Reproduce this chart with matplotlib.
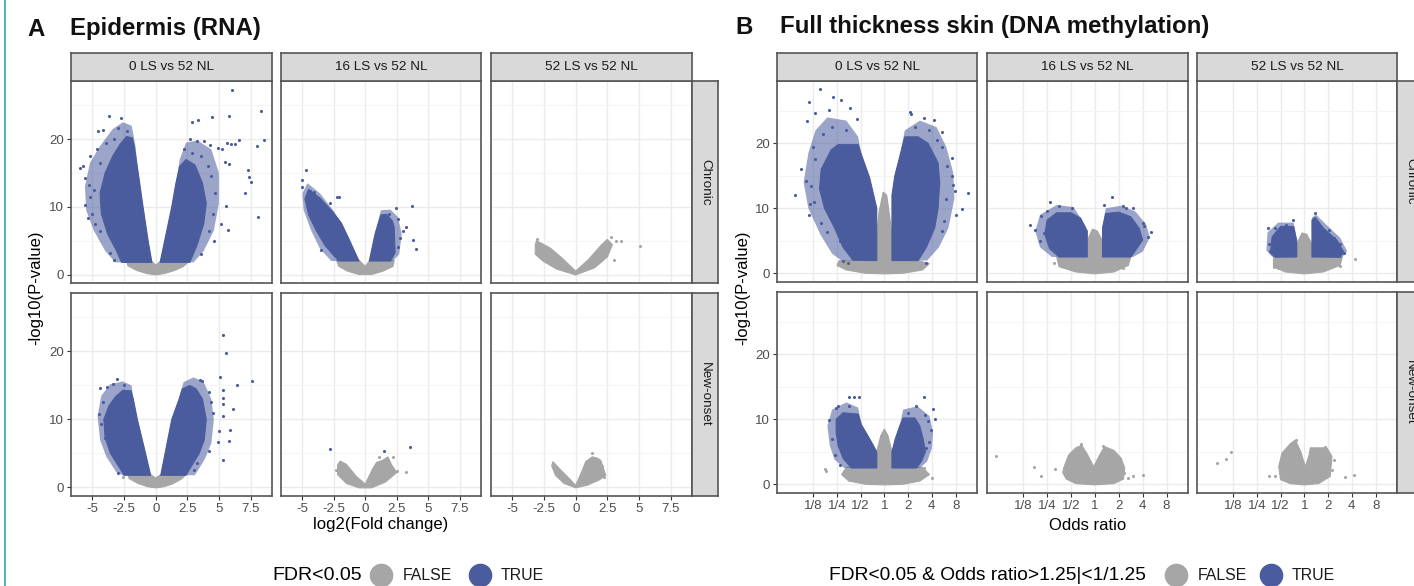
import matplotlib.pyplot as plt
from matplotlib.lines import Line2D

plt.rcParams['font.family'] = ['Liberation Sans', 'DejaVu Sans']

BLUE = '#4A5C9D'
GREY = '#A6A6A6'

# ---------------- data ----------------
# Each cloud: outline of the dense core, outline of the sparser fringe, plus isolated points.
# x = log2 fold change (A) or log2 odds ratio (B), y = -log10 p
# A: epidermis RNA
epi_chr_0_gray = [(-2.3, 1.9), (-0.3, 1.9), (0, 1.4), (0.35, 1.9), (2.6, 1.9), (2.2, 1.2), (1.5, 0.6),
                  (0.7, 0.15), (0, -0.05), (-0.7, 0.15), (-1.5, 0.6), (-2.2, 1.3)]
epi_chr_0_dn = [(-0.3, 1.8), (-0.6, 5), (-1.0, 10), (-1.38, 15), (-1.7, 19), (-1.85, 20.2), (-2.3, 20.4),
                (-2.8, 19.3), (-3.4, 17.5), (-4.0, 15), (-4.4, 12), (-4.3, 9), (-3.8, 6), (-3.1, 3.5), (-2.7, 1.8)]
epi_chr_0_dn_fringe = [(-0.3, 1.8), (-0.6, 5), (-1.0, 10), (-1.38, 15), (-1.6, 19), (-1.9, 22), (-2.6, 22.5),
                       (-3.4, 21.5), (-4.4, 19), (-5.2, 16.5), (-5.6, 13), (-5.5, 9.5), (-4.9, 6.5), (-4.0, 3.5),
                       (-3.2, 1.8)]
epi_chr_0_up = [(0.35, 1.8), (0.71, 5), (1.27, 10), (1.6, 13.5), (1.9, 16), (2.4, 17), (3.1, 16.2),
                (3.7, 13.5), (4.0, 10.5), (3.8, 7.5), (3.3, 4.5), (2.7, 1.8)]
epi_chr_0_up_fringe = [(0.35, 1.8), (0.71, 5), (1.27, 10), (1.6, 13.5), (1.9, 17), (2.4, 19.5), (3.3, 19.8),
                       (4.4, 18.5), (5.0, 15), (5.0, 10.5), (4.6, 6.5), (3.8, 3.5), (3.0, 1.8)]
epi_chr_0_pts = [(-3.7, 23.5), (-2.78, 23.2), (-4.55, 21.2), (-4.18, 21.4), (-2.99, 21.7), (-2.3, 21.2),
                 (-5.95, 15.8), (-5.77, 16.1), (-5.56, 14.3), (-5.6, 10.3), (-5.37, 8.4), (-5.16, 17.5),
                 (-4.63, 18.5), (-5.03, 9.0), (-4.9, 12.5), (-5.2, 11.5), (-4.8, 7.5), (-4.4, 6.5), (-3.6, 3.2),
                 (-3.3, 2.2), (-3.9, 19.5), (-3.3, 20.0), (-4.4, 16.5), (-5.3, 13.2),
                 (6.03, 27.2), (5.77, 23.5), (8.33, 24.1), (8.6, 19.95), (8.0, 19.0), (4.42, 23.3), (3.33, 22.8),
                 (2.86, 22.6), (6.56, 19.85), (6.24, 19.3), (5.95, 19.3), (5.63, 19.4), (7.33, 15.5), (7.41, 14.4),
                 (7.57, 13.7), (7.06, 12.0), (8.07, 8.5), (5.69, 6.65), (5.6, 10.1), (2.7, 20.0), (3.3, 19.7),
                 (3.84, 19.7), (4.3, 19.1), (4.9, 18.7), (5.24, 18.5), (5.48, 16.7), (5.8, 16.3), (4.6, 4.9),
                 (5.2, 7.4), (4.4, 14.5), (4.7, 12.0), (4.5, 9.0), (4.2, 6.5), (3.6, 3.0), (2.9, 18.0),
                 (3.6, 17.5), (4.1, 16.0), (2.2, 18.5)]

epi_new_0_gray = [(-2.2, 1.9), (-0.4, 1.9), (0, 1.4), (0.4, 1.9), (2.4, 1.9), (2.0, 1.2), (1.3, 0.5),
                  (0.6, 0.1), (0, -0.05), (-0.6, 0.1), (-1.4, 0.6), (-2.1, 1.3)]
epi_new_0_dn = [(-0.4, 1.8), (-0.8, 5), (-1.45, 10), (-1.77, 13), (-1.95, 14.2), (-2.6, 14.3), (-3.2, 13.3),
                (-3.7, 12), (-4.1, 10), (-4.0, 7.3), (-3.57, 5), (-2.9, 3), (-2.5, 1.8)]
epi_new_0_dn_fringe = [(-0.4, 1.8), (-0.8, 5), (-1.45, 10), (-1.77, 13), (-1.9, 15), (-2.6, 15.6), (-3.6, 15.2),
                       (-4.3, 13.5), (-4.6, 10.5), (-4.4, 7), (-3.9, 4.5), (-3.1, 2.2), (-2.6, 1.8)]
epi_new_0_up = [(0.4, 1.8), (0.74, 5), (1.27, 10), (1.85, 13), (2.1, 14.5), (2.7, 15), (3.2, 14.5), (3.7, 13),
                (4.0, 10), (3.84, 7), (3.44, 5), (2.78, 3), (2.4, 1.8)]
epi_new_0_up_fringe = [(0.4, 1.8), (0.74, 5), (1.27, 10), (1.85, 13), (2.2, 15.5), (3.0, 16.2), (3.8, 15.5),
                       (4.4, 13), (4.6, 10), (4.4, 6.5), (3.9, 4.2), (3.1, 1.8)]
epi_new_0_pts = [(-3.1, 16.0), (-4.37, 14.7), (-3.84, 14.8), (-4.5, 10.8), (-4.29, 9.3), (-4.0, 7.3),
                 (-3.4, 15.2), (-2.5, 15.0), (-4.2, 12.5), (-3.0, 2.2),
                 (5.29, 22.4), (5.56, 19.75), (5.08, 16.3), (7.62, 15.7), (6.43, 15.0), (5.34, 14.4),
                 (5.29, 13.2), (5.34, 12.3), (6.08, 11.5), (5.34, 10.5), (5.9, 8.4), (5.77, 6.9), (5.03, 8.3),
                 (4.92, 6.65), (5.34, 4.0), (4.5, 11.0), (4.23, 5.3), (3.5, 15.8), (3.7, 15.6), (4.2, 14.0),
                 (4.4, 12.5), (3.0, 2.5), (3.3, 3.6)]
epi_new_0_gpts = [(-2.6, 1.5)]

epi_chr_16_gray = [(-2.3, 2.1), (-0.5, 2.1), (0, 1.2), (0.35, 2.1), (2.3, 2.1), (2.2, 1.2), (1.4, 0.5),
                   (0.5, 0.0), (-0.5, 0.0), (-1.4, 0.5), (-2.1, 1.2)]
epi_chr_16_dn = [(-0.5, 2), (-1.26, 5.1), (-1.9, 7.6), (-2.6, 9.3), (-3.6, 11.3), (-4.5, 12.6), (-4.8, 11.2),
                 (-4.5, 8.8), (-3.9, 6.5), (-3.2, 4.3), (-2.5, 2.8), (-2.1, 2)]
epi_chr_16_dn_fringe = [(-0.5, 2), (-1.26, 5.1), (-1.9, 7.6), (-2.6, 9.6), (-3.6, 12), (-4.6, 13.5), (-5.0, 12),
                        (-4.9, 9.5), (-4.3, 6.5), (-3.6, 3.8), (-2.7, 2)]
epi_chr_16_up = [(0.32, 2), (0.79, 6.1), (1.24, 8.8), (1.7, 8.9), (2.16, 7.9), (2.3, 7.0), (2.37, 3.2), (2.0, 2)]
epi_chr_16_up_fringe = [(0.32, 2), (0.79, 6.1), (1.24, 9.5), (2.0, 9.6), (2.6, 8.5), (2.9, 6), (2.7, 3), (2.2, 2)]
epi_chr_16_pts = [(-4.74, 15.5), (-5.0, 14.0), (-5.0, 13.0), (-4.4, 12.4), (-4.1, 12.25), (-2.24, 11.5),
                  (-2.1, 11.4), (-3.55, 3.7), (-2.84, 10.5), (-4.3, 9.5), (-3.3, 8.0), (2.42, 9.8), (3.68, 10.1),
                  (3.26, 7.0), (3.8, 5.1), (4.0, 3.8), (2.8, 5.4), (1.9, 9.0), (2.6, 8.2), (3.0, 6.5), (2.6, 4.0)]

epi_chr_52_gray = [(-3.1, 5.0), (-2.0, 3.9), (-1.0, 2.3), (0, 0.5), (1.0, 2.2), (2.0, 4.3), (2.5, 5.2),
                   (2.9, 4.4), (2.5, 2.6), (1.5, 1.0), (0, -0.05), (-1.5, 0.8), (-2.6, 2.0), (-3.2, 3.0),
                   (-3.2, 4.4)]
epi_chr_52_gpts = [(3.17, 4.9), (3.57, 4.9), (5.1, 4.2), (3.04, 2.2), (-3.04, 5.2), (2.8, 5.5)]

epi_new_16_gray = [(-2.2, 3.3), (-2.0, 3.9), (-1.5, 3.4), (-0.7, 1.6), (0, 0.5), (0.6, 2.8), (0.9, 3.7),
                   (1.4, 4.0), (1.8, 4.5), (2.1, 3.3), (2.5, 2.2), (1.6, 0.8), (0.5, -0.05), (-0.5, -0.05),
                   (-1.5, 0.6), (-2.2, 1.9)]
epi_new_16_pts = [(-2.79, 5.6), (1.5, 5.4), (3.58, 6.0)]
epi_new_16_gpts = [(2.2, 4.5), (2.55, 2.45), (3.26, 2.3), (1.1, 4.5), (-2.3, 2.5)]

epi_new_52_gray = [(-1.8, 3.8), (-1.2, 2.6), (-0.4, 1.1), (0, 0.3), (0.53, 2.55), (0.79, 3.8), (1.32, 4.5),
                   (1.72, 4.3), (1.98, 4.0), (2.38, 1.8), (1.85, 1.1), (0.93, 0.35), (0, -0.05), (-0.93, 0.6),
                   (-1.6, 1.8), (-1.9, 3.2)]
epi_new_52_gpts = [(1.32, 5.0), (2.25, 1.6), (2.1, 3.2)]

# B: full thickness skin methylation
met_chr_0_gray = [(-2.0, 1.2), (-1.9, 1.95), (-0.32, 1.95), (-0.32, 6), (-0.22, 9.5), (-0.05, 12.5),
                  (0.1, 12), (0.25, 8), (0.32, 6), (0.32, 1.95), (1.4, 1.95), (1.9, 1.5), (1.6, 0.5), (0.8, 0.0),
                  (0, -0.1), (-0.8, 0.0), (-1.6, 0.5)]
met_chr_0_dn = [(-0.32, 1.95), (-0.32, 10), (-0.62, 14.7), (-0.97, 18.3), (-1.1, 19.8), (-1.95, 19.8),
                (-2.24, 19), (-2.66, 16), (-2.73, 13), (-2.52, 10), (-2.1, 7), (-1.74, 4), (-1.32, 2.0)]
met_chr_0_dn_fringe = [(-0.32, 1.95), (-0.32, 10), (-0.62, 14.7), (-0.97, 18.3), (-1.1, 21), (-1.6, 23.5),
                       (-2.4, 24), (-2.9, 22), (-3.2, 18.5), (-3.4, 14), (-3.2, 10), (-2.7, 6), (-2.2, 3),
                       (-1.8, 1.95)]
met_chr_0_up = [(0.32, 1.95), (0.32, 12), (0.44, 15), (0.65, 18), (0.86, 21), (1.42, 21), (1.84, 20),
                (2.26, 17), (2.33, 14), (2.26, 10), (2.12, 7), (1.77, 4), (1.42, 1.95)]
met_chr_0_up_fringe = [(0.32, 1.95), (0.32, 12), (0.44, 15), (0.65, 18), (0.86, 22), (1.5, 23.5), (2.2, 22.5),
                       (2.6, 19.5), (2.9, 15.5), (2.95, 11.5), (2.7, 7), (2.3, 4), (1.8, 1.95)]
met_chr_0_pts = [(-2.7, 28.4), (-3.18, 26.3), (-2.17, 27.1), (-1.81, 26.6), (-2.31, 25.2), (-2.91, 24.7),
                 (-3.26, 23.4), (-1.43, 25.5), (-1.14, 23.8), (-3.53, 16.1), (-3.29, 14.2), (-3.78, 12.1),
                 (-3.15, 10.7), (-3.18, 9.0), (-2.66, 7.7), (-2.4, 6.3), (-1.88, 4.9), (-1.74, 1.85),
                 (-1.53, 1.6), (-2.91, 17.6), (-2.6, 21.5), (-2.2, 22.5), (-1.6, 22.0), (-3.0, 19.5),
                 (-3.1, 13.5), (-2.95, 11.0),
                 (1.07, 24.9), (1.14, 24.5), (1.65, 23.9), (2.07, 23.6), (2.43, 21.7), (2.41, 19.5), (2.62, 16.5),
                 (2.83, 14.9), (2.9, 13.6), (2.97, 12.6), (3.53, 12.4), (3.25, 9.9), (3.01, 9.0), (2.41, 6.5),
                 (1.77, 1.6), (2.83, 17.7), (1.3, 22.5), (1.9, 22.0), (2.2, 20.5), (2.6, 11.5), (2.5, 8.0)]

met_new_0_gray = [(-1.6, 2.6), (-0.32, 2.6), (-0.32, 5), (-0.15, 7.5), (0, 8.5), (0.15, 7.5), (0.32, 5),
                  (0.32, 2.6), (1.6, 2.6), (1.9, 1.5), (1.5, 0.5), (0.8, 0.0), (0, -0.1), (-0.8, 0.0),
                  (-1.5, 0.5), (-1.8, 1.5)]
met_new_0_dn = [(-0.32, 2.5), (-0.32, 5), (-0.62, 7), (-0.97, 9.2), (-1.1, 10.8), (-1.74, 11.0), (-2.03, 10),
                (-2.03, 8), (-1.95, 6), (-1.74, 4), (-1.39, 2.5)]
met_new_0_dn_fringe = [(-0.32, 2.5), (-0.32, 5), (-0.62, 7), (-0.97, 9.2), (-1.1, 11.8), (-1.6, 12.6),
                       (-2.2, 11.5), (-2.4, 9), (-2.3, 6), (-2.1, 3.8), (-1.7, 2.5)]
met_new_0_up = [(0.32, 2.5), (0.32, 5), (0.46, 7), (0.65, 9), (0.79, 10.2), (1.28, 10.2), (1.49, 9),
                (1.63, 7), (1.73, 5), (1.56, 3.5), (1.35, 2.5)]
met_new_0_up_fringe = [(0.32, 2.5), (0.32, 5), (0.46, 7), (0.65, 9), (0.79, 11.5), (1.4, 12), (1.9, 10.5),
                       (2.05, 8), (2.0, 5.5), (1.8, 3.5), (1.5, 2.5)]
met_new_0_pts = [(-2.35, 9.95), (-2.03, 11.7), (-1.95, 12.0), (-1.5, 13.4), (-1.28, 13.5), (-1.08, 13.5),
                 (-2.07, 4.56), (-1.88, 3.0), (-1.88, 8.7), (-2.2, 7.0), (-1.5, 12.0),
                 (1.67, 13.4), (2.03, 11.6), (2.12, 10.05), (1.7, 10.6), (1.84, 9.7), (1.95, 8.4), (1.32, 12.0),
                 (1.42, 7.6), (1.77, 5.6), (1.9, 6.5), (1.0, 11.0)]
met_new_0_gpts = [(-2.52, 2.4), (-2.45, 2.0), (-1.53, 1.2), (1.42, 1.2), (1.63, 1.7), (1.67, 2.5), (2.0, 1.0)]

met_chr_16_gray = [(-1.6, 2.5), (-0.32, 2.5), (-0.32, 5), (-0.1, 6.8), (0.1, 6.5), (0.32, 5), (0.32, 2.5),
                   (1.5, 2.5), (1.4, 1.2), (0.8, 0.2), (0, -0.1), (-0.8, 0.2), (-1.5, 1.0)]
met_chr_16_dn = [(-0.32, 2.5), (-0.32, 6.5), (-0.6, 8.5), (-1.0, 9.3), (-1.6, 9.3), (-2.0, 8.2), (-2.1, 6.0),
                 (-1.9, 3.8), (-1.5, 2.5)]
met_chr_16_dn_fringe = [(-0.32, 2.5), (-0.32, 6.5), (-0.6, 8.5), (-0.9, 10.2), (-1.6, 10.5), (-2.3, 9.0),
                        (-2.5, 6.5), (-2.3, 4), (-1.8, 2.5)]
met_chr_16_up = [(0.32, 2.5), (0.32, 7), (0.45, 9.2), (1.0, 9.4), (1.5, 8.7), (1.86, 6.9), (2.0, 5.1),
                 (1.51, 2.5)]
met_chr_16_up_fringe = [(0.32, 2.5), (0.32, 7), (0.45, 10), (1.1, 10.4), (1.7, 9.5), (2.15, 7.5), (2.3, 5.5),
                        (2.0, 3.3), (1.6, 2.5)]
met_chr_16_pts = [(-2.72, 7.4), (-2.5, 6.7), (-1.88, 11.0), (-2.27, 8.8), (-1.5, 10.35), (-0.94, 10.1),
                  (-2.13, 6.25), (-1.92, 5.6), (-1.22, 9.0), (-2.3, 5.0), (-2.0, 9.6),
                  (0.7, 11.8), (1.16, 10.3), (1.58, 10.0), (2.0, 7.8), (2.21, 5.6), (2.35, 6.4), (2.07, 7.2),
                  (1.72, 5.1), (1.51, 4.1), (0.4, 10.5), (1.3, 10.0)]
met_chr_16_gpts = [(1.19, 0.8), (-1.7, 1.5)]

met_chr_52_gray = [(-1.3, 2.5), (-0.32, 2.5), (-0.32, 4.5), (-0.1, 6.2), (0.1, 6), (0.32, 4.5), (0.32, 2.5),
                   (1.6, 2.5), (1.5, 1.2), (0.8, 0.2), (0, -0.1), (-0.8, 0.2), (-1.3, 1.0)]
met_chr_52_dn = [(-0.32, 2.5), (-0.32, 5), (-0.45, 7.2), (-1.0, 7.2), (-1.36, 5.6), (-1.43, 3.1), (-1.22, 2.46)]
met_chr_52_dn_fringe = [(-0.32, 2.5), (-0.32, 5), (-0.45, 7.8), (-1.1, 7.8), (-1.55, 6.3), (-1.6, 3.5),
                        (-1.35, 2.5)]
met_chr_52_up = [(0.32, 2.5), (0.32, 8.2), (0.46, 8.6), (0.81, 6.9), (1.37, 5.1), (1.65, 3.3), (1.51, 2.46)]
met_chr_52_up_fringe = [(0.32, 2.5), (0.32, 8.6), (0.5, 9.0), (1.0, 7.2), (1.5, 5.5), (1.8, 3.4), (1.6, 2.5)]
met_chr_52_pts = [(0.46, 9.2), (1.02, 6.7), (1.23, 5.4), (1.68, 3.1), (-1.53, 7.0), (-1.25, 7.0), (-0.49, 8.2),
                  (-0.76, 7.4), (-1.46, 3.5), (-1.5, 4.5), (1.5, 4.5)]
met_chr_52_gpts = [(2.14, 2.15), (-1.29, 1.0), (1.51, 1.13), (-1.1, 0.8)]

met_new_16_gray = [(-1.3, 2.6), (-1.1, 4.5), (-0.8, 5.6), (-0.55, 6.0), (-0.3, 4.5), (-0.05, 2.7), (0.2, 4.5),
                   (0.4, 5.8), (0.8, 5.2), (1.1, 4.0), (1.25, 2.5), (1.2, 0.8), (0.8, 0.1), (0, -0.1),
                   (-0.8, 0.1), (-1.2, 0.8), (-1.35, 1.8)]
met_new_16_gpts = [(2.0, 1.4), (1.37, 1.0), (1.61, 1.2), (1.23, 1.7), (0.32, 5.9), (-4.16, 4.35), (-2.55, 2.6),
                   (-2.27, 1.3), (-1.68, 2.3), (-0.59, 6.2)]

met_new_52_gray = [(-1.0, 0.7), (-1.08, 2.7), (-0.94, 4.8), (-0.6, 6.2), (-0.38, 6.8), (-0.15, 5.0),
                   (0.04, 2.7), (0.2, 4.5), (0.25, 5.6), (0.95, 5.6), (1.16, 4.3), (1.09, 1.2), (0.6, 0.1),
                   (0, -0.1), (-0.6, 0.1)]
met_new_52_gpts = [(-3.67, 3.3), (-3.32, 3.85), (-3.08, 4.9), (-1.5, 1.2), (-1.25, 1.3), (-0.34, 6.8),
                   (0.88, 5.8), (1.16, 2.2), (1.23, 3.7), (1.69, 1.1), (2.07, 1.4)]

comparisons = ['0 LS vs 52 NL', '16 LS vs 52 NL', '52 LS vs 52 NL']
groups = ['Chronic', 'New-onset']
rna_ticks = [-5, -2.5, 0, 2.5, 5, 7.5]
rna_tick_labels = ['-5', '-2.5', '0', '2.5', '5', '7.5']
or_ticks = [-3, -2, -1, 0, 1, 2, 3]
or_tick_labels = ['1/8', '1/4', '1/2', '1', '2', '4', '8']

# panel table: (row, col) -> grey outline, blue core outlines, blue fringe outlines, blue points, grey points
rna_panels = {
    (0, 0): (epi_chr_0_gray, [epi_chr_0_dn, epi_chr_0_up], [epi_chr_0_dn_fringe, epi_chr_0_up_fringe],
             epi_chr_0_pts, []),
    (0, 1): (epi_chr_16_gray, [epi_chr_16_dn, epi_chr_16_up], [epi_chr_16_dn_fringe, epi_chr_16_up_fringe],
             epi_chr_16_pts, []),
    (0, 2): (epi_chr_52_gray, [], [], [], epi_chr_52_gpts),
    (1, 0): (epi_new_0_gray, [epi_new_0_dn, epi_new_0_up], [epi_new_0_dn_fringe, epi_new_0_up_fringe],
             epi_new_0_pts, epi_new_0_gpts),
    (1, 1): (epi_new_16_gray, [], [], epi_new_16_pts, epi_new_16_gpts),
    (1, 2): (epi_new_52_gray, [], [], [], epi_new_52_gpts),
}
met_panels = {
    (0, 0): (met_chr_0_gray, [met_chr_0_dn, met_chr_0_up], [met_chr_0_dn_fringe, met_chr_0_up_fringe],
             met_chr_0_pts, []),
    (0, 1): (met_chr_16_gray, [met_chr_16_dn, met_chr_16_up], [met_chr_16_dn_fringe, met_chr_16_up_fringe],
             met_chr_16_pts, met_chr_16_gpts),
    (0, 2): (met_chr_52_gray, [met_chr_52_dn, met_chr_52_up], [met_chr_52_dn_fringe, met_chr_52_up_fringe],
             met_chr_52_pts, met_chr_52_gpts),
    (1, 0): (met_new_0_gray, [met_new_0_dn, met_new_0_up], [met_new_0_dn_fringe, met_new_0_up_fringe],
             met_new_0_pts, met_new_0_gpts),
    (1, 1): (met_new_16_gray, [], [], [], met_new_16_gpts),
    (1, 2): (met_new_52_gray, [], [], [], met_new_52_gpts),
}

# ---------------- layout (pixels) ----------------
W, H = 1414, 586
fig = plt.figure(figsize=(W / 100, H / 100), dpi=100)
fig.patch.set_facecolor('white')


def rect(x0, y0, x1, y1):
    return [x0 / W, 1 - y1 / H, (x1 - x0) / W, (y1 - y0) / H]


def make_strip(r, text, rotation=0):
    s = fig.add_axes(r)
    s.set_facecolor('#D9D9D9')
    s.set_xticks([])
    s.set_yticks([])
    for sp in s.spines.values():
        sp.set_color('#555555')
        sp.set_linewidth(1.2)
    s.text(0.5, 0.5, text, ha='center', va='center', rotation=rotation, fontsize=9.7,
           color='#1a1a1a', transform=s.transAxes)


def draw_facets(panels, cols, rows, rstrip, xlim, ylim, ticks, tick_labels):
    for (r, c), (gray, lobes, fringes, pts, gpts) in panels.items():
        ax = fig.add_axes(rect(cols[c][0], rows[r][0], cols[c][1], rows[r][1]))
        ax.fill(*zip(*gray), color=GREY, lw=0.8, zorder=2)
        for fr in fringes:
            ax.fill(*zip(*fr), facecolor=BLUE, edgecolor='none', alpha=0.55, zorder=3)
        for lobe in lobes:
            ax.fill(*zip(*lobe), color=BLUE, lw=0.8, zorder=3)
        if gpts:
            ax.scatter(*zip(*gpts), s=5, color=GREY, lw=0, zorder=2)
        if pts:
            ax.scatter(*zip(*pts), s=5, color=BLUE, lw=0, zorder=4)
        ax.set_xlim(xlim)
        ax.set_ylim(ylim)
        ax.set_xticks(ticks)
        ax.set_yticks([0, 10, 20])
        ax.set_yticks([5, 15, 25], minor=True)
        ax.grid(which='major', color='#EBEBEB', lw=1.0)
        ax.grid(which='minor', axis='y', color='#F3F3F3', lw=0.6)
        ax.set_axisbelow(True)
        for sp in ax.spines.values():
            sp.set_color('#555555')
            sp.set_linewidth(1.2)
        ax.tick_params(which='minor', length=0)
        ax.tick_params(which='major', direction='out', length=3, width=0.8, color='#333333',
                       labelsize=9.5, labelcolor='#4D4D4D', pad=2,
                       bottom=(r == 1), left=(c == 0), labelbottom=(r == 1), labelleft=(c == 0))
        if r == 1:
            ax.set_xticklabels(tick_labels)
        if r == 0:
            make_strip(rect(cols[c][0], 53, cols[c][1], 81), comparisons[c])
        if c == 2:
            make_strip(rect(rstrip[0], rows[r][0], rstrip[1], rows[r][1]), groups[r], rotation=-90)


draw_facets(rna_panels, [(71, 272), (281, 481), (491, 692)], [(81, 283), (293, 496)], (692, 718),
            (-6.7, 9.2), (-1.25, 28.6), rna_ticks, rna_tick_labels)
draw_facets(met_panels, [(777, 977), (987, 1188), (1197, 1397)], [(81, 282), (292, 493)], (1397, 1423),
            (-4.52, 3.9), (-1.35, 29.6), or_ticks, or_tick_labels)

# titles and axis labels
fig.text(27 / W, 1 - 29 / H, 'A', fontsize=17.3, fontweight='bold', va='center', color='#111111')
fig.text(70 / W, 1 - 29 / H, 'Epidermis (RNA)', fontsize=17.3, fontweight='bold', va='center', color='#111111')
fig.text(735 / W, 1 - 27 / H, 'B', fontsize=17.3, fontweight='bold', va='center', color='#111111')
fig.text(780 / W, 1 - 27 / H, 'Full thickness skin (DNA methylation)', fontsize=17.3, fontweight='bold',
         va='center', color='#111111')
fig.text(36 / W, 1 - 288 / H, '-log10(P-value)', fontsize=12, rotation=90, ha='center', va='center')
fig.text(743 / W, 1 - 288 / H, '-log10(P-value)', fontsize=12, rotation=90, ha='center', va='center')
fig.text(381 / W, 1 - 525 / H, 'log2(Fold change)', fontsize=12, ha='center', va='center')
fig.text(1088 / W, 1 - 525 / H, 'Odds ratio', fontsize=12, ha='center', va='center')

# legends
ly = 1 - 575 / H
fig.text(272 / W, ly, 'FDR<0.05', fontsize=14, va='center')
fig.text(829 / W, ly, 'FDR<0.05 & Odds ratio>1.25|<1/1.25', fontsize=13.8, va='center')
for x_grey, x_blue in [(381, 480), (1176, 1271)]:
    fig.add_artist(Line2D([x_grey / W], [ly], marker='o', markersize=16, color=GREY, ls='none',
                          transform=fig.transFigure))
    fig.add_artist(Line2D([x_blue / W], [ly], marker='o', markersize=16, color=BLUE, ls='none',
                          transform=fig.transFigure))
    fig.text((x_grey + 22) / W, ly, 'FALSE', fontsize=11.4, va='center', color='#1a1a1a')
    fig.text((x_blue + 21) / W, ly, 'TRUE', fontsize=11.4, va='center', color='#1a1a1a')

# thin teal frame line on the left edge
fig.add_artist(Line2D([4.5 / W, 4.5 / W], [0, 1], transform=fig.transFigure, color='#5BB0BA', lw=1.5))

fig.savefig('out.png', dpi=100)
